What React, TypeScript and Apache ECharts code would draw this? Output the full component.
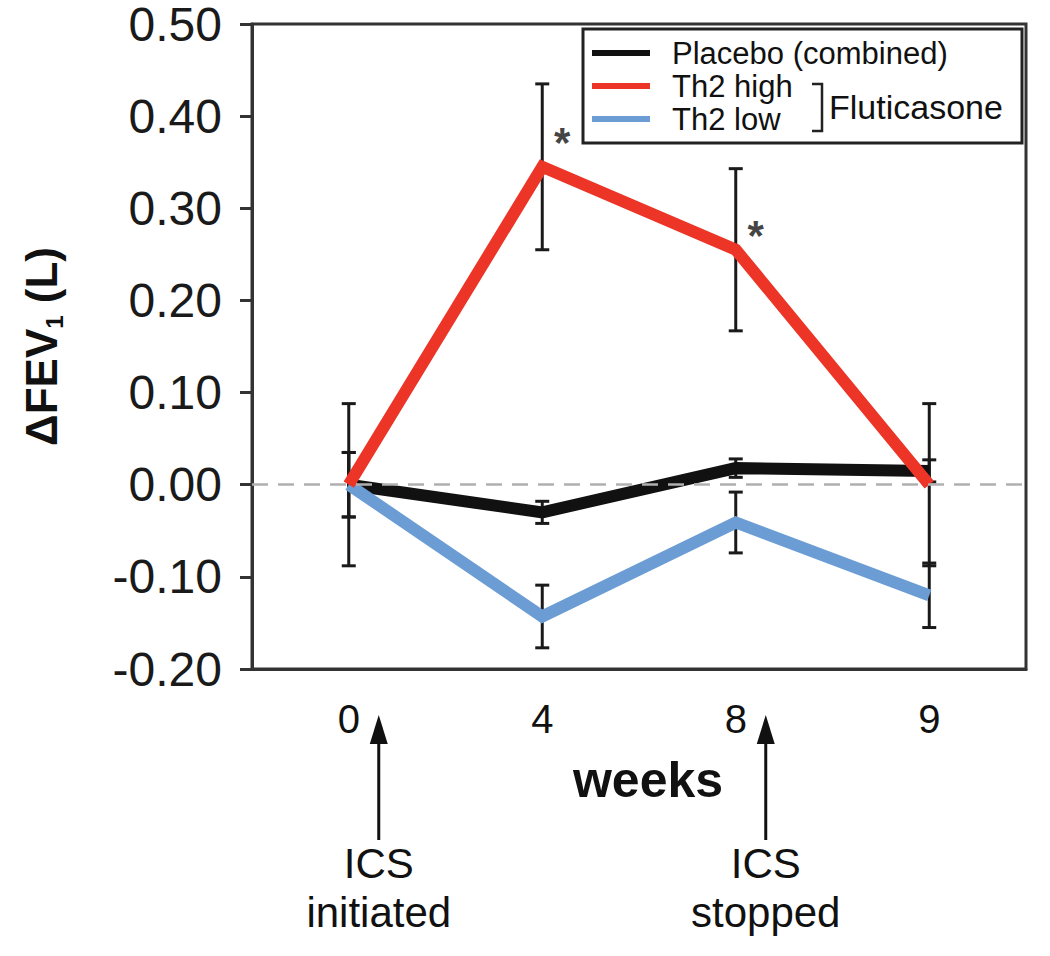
import React, { useEffect, useRef } from "react";
import * as echarts from "echarts";

const weeks = ["0", "4", "8", "9"];
const placebo = [0, -0.03, 0.018, 0.015];
const placeboErr = [0.035, 0.012, 0.01, 0.012];
const th2High = [0, 0.345, 0.255, 0];
const th2HighErr = [0.088, 0.09, 0.088, 0.088];
const th2Low = [0, -0.143, -0.041, -0.12];
const th2LowErr = [0.035, 0.034, 0.033, 0.035];
const yTicks = { min: -0.2, max: 0.5, interval: 0.1 };
// significance markers: [category index, value where the star sits]
const sigMarks = [
  [1, 0.378],
  [2, 0.277],
];
// ICS annotations: [week, line1, line2]
const icsNotes = [
  ["0", "ICS", "initiated"],
  ["8", "ICS", "stopped"],
];

const FONT = "'Liberation Sans', Arial, Helvetica, sans-serif";
const RED = "#ec3427";
const BLUE = "#6b9dd4";
const BLACK = "#111111";

export default function App() {
  const ref = useRef<HTMLDivElement>(null);
  useEffect(() => {
    if (!ref.current) return;
    const chart = echarts.init(ref.current, undefined, { renderer: "svg" });
    const errData: any[] = [];
    [placebo, th2High, th2Low].forEach((arr, s) => {
      const errs = [placeboErr, th2HighErr, th2LowErr][s];
      arr.forEach((v, i) => errData.push([i, v, errs[i]]));
    });
    const lineStyle = (c: string) => ({ color: c, width: 12, join: "miter" });
    chart.setOption({
      animation: false,
      textStyle: { fontFamily: FONT },
      grid: {
        left: 252,
        right: 24,
        top: 22,
        bottom: 287,
        show: true,
        borderColor: "#333",
        borderWidth: 3,
      },
      legend: {
        data: ["Placebo (combined)", "Th2 high", "Th2 low"],
        orient: "vertical",
        left: 592,
        top: 37,
        padding: 0,
        itemGap: 1,
        itemWidth: 58,
        itemHeight: 6,
        icon: "rect",
        selectedMode: false,
        textStyle: {
          fontSize: 31,
          lineHeight: 32,
          color: BLACK,
          fontFamily: FONT,
          padding: [0, 0, 0, 17],
        },
      },
      xAxis: {
        type: "category",
        data: weeks,
        boundaryGap: true,
        axisLine: { show: true, onZero: false, lineStyle: { color: "#333", width: 3 } },
        axisTick: { show: false },
        axisLabel: { fontSize: 40, color: BLACK, margin: 30 },
        name: "weeks",
        nameLocation: "middle",
        nameGap: 86,
        nameTextStyle: {
          fontSize: 50,
          fontWeight: "bold",
          color: BLACK,
          padding: [0, 0, 0, 18],
        },
        splitLine: { show: false },
      },
      yAxis: {
        type: "value",
        min: yTicks.min,
        max: yTicks.max,
        interval: yTicks.interval,
        axisLine: { show: true, lineStyle: { color: "#333", width: 3 } },
        axisTick: { show: true, inside: false, length: 12, lineStyle: { color: "#333", width: 3 } },
        axisLabel: {
          fontSize: 48,
          lineHeight: 40,
          color: "#1a1a1a",
          margin: 30,
          formatter: (v: number) => v.toFixed(2),
        },
        splitLine: { show: false },
        name: "ΔFEV{sub|1} (L)",
        nameLocation: "middle",
        nameRotate: 90,
        nameGap: 186,
        nameTextStyle: {
          fontSize: 44,
          fontWeight: "bold",
          color: BLACK,
          lineHeight: 50,
          rich: {
            sub: { fontSize: 24, fontWeight: "bold", color: BLACK, verticalAlign: "bottom", lineHeight: 50 },
          },
        },
      },
      series: [
        {
          name: "zero",
          type: "line",
          data: weeks.map(() => null),
          z: 1,
          silent: true,
          markLine: {
            silent: true,
            symbol: "none",
            label: { show: false },
            lineStyle: { color: "#b0b0b0", width: 2.5, type: [16, 10] },
            data: [{ yAxis: 0 }],
          },
        },
        {
          name: "errors",
          type: "custom",
          z: 2,
          silent: true,
          data: errData,
          encode: { x: 0, y: 1 },
          renderItem: (params: any, api: any) => {
            const i = api.value(0);
            const v = api.value(1);
            const e = api.value(2);
            const top = api.coord([i, v + e]);
            const bot = api.coord([i, v - e]);
            const half = 7;
            const st = { stroke: "#1a1a1a", lineWidth: 3 };
            return {
              type: "group",
              children: [
                { type: "line", shape: { x1: top[0], y1: top[1], x2: bot[0], y2: bot[1] }, style: st },
                { type: "line", shape: { x1: top[0] - half, y1: top[1], x2: top[0] + half, y2: top[1] }, style: st },
                { type: "line", shape: { x1: bot[0] - half, y1: bot[1], x2: bot[0] + half, y2: bot[1] }, style: st },
              ],
            };
          },
        },
        {
          name: "Placebo (combined)",
          type: "line",
          data: placebo,
          showSymbol: false,
          symbol: "none",
          color: BLACK,
          lineStyle: lineStyle(BLACK),
          z: 3,
        },
        {
          name: "Th2 low",
          type: "line",
          data: th2Low,
          showSymbol: false,
          symbol: "none",
          color: BLUE,
          lineStyle: lineStyle(BLUE),
          z: 3,
        },
        {
          name: "Th2 high",
          type: "line",
          data: th2High,
          showSymbol: false,
          symbol: "none",
          color: RED,
          lineStyle: lineStyle(RED),
          z: 4,
        },
        {
          name: "sig",
          type: "scatter",
          data: sigMarks,
          symbolSize: 1,
          itemStyle: { color: "rgba(0,0,0,0)" },
          silent: true,
          z: 5,
          label: {
            show: true,
            formatter: "*",
            position: "inside",
            offset: [20, 6],
            fontSize: 42,
            fontWeight: "bold",
            color: BLACK,
          },
        },
      ],
    });

    const graphics: any[] = [
      {
        type: "rect",
        shape: { x: 583, y: 29, width: 439, height: 114 },
        style: { fill: "rgba(0,0,0,0)", stroke: "#222", lineWidth: 3 },
        z: 10,
      },
      {
        type: "polyline",
        shape: { points: [[812, 84], [822, 84], [822, 131], [812, 131]] },
        style: { fill: "none", stroke: "#222", lineWidth: 2.5 },
        z: 10,
      },
      {
        type: "text",
        x: 829,
        y: 107,
        style: { text: "Fluticasone", fontSize: 34, fill: BLACK, fontFamily: FONT, align: "left", verticalAlign: "middle" },
        z: 10,
      },
    ];
    icsNotes.forEach(([wk, l1, l2]) => {
      const px = (chart.convertToPixel({ xAxisIndex: 0 }, wk) as number) + 30;
      graphics.push(
        {
          type: "line",
          shape: { x1: px, y1: 840, x2: px, y2: 738 },
          style: { stroke: "#111", lineWidth: 3 },
        },
        {
          type: "polygon",
          shape: { points: [[px, 715], [px - 9, 744], [px + 9, 744]] },
          style: { fill: "#111" },
        },
        {
          type: "text",
          x: px,
          y: 863,
          style: { text: l1, fontSize: 42, fill: BLACK, fontFamily: FONT, align: "center", verticalAlign: "middle" },
        },
        {
          type: "text",
          x: px,
          y: 912,
          style: { text: l2, fontSize: 42, fill: BLACK, fontFamily: FONT, align: "center", verticalAlign: "middle" },
        }
      );
    });
    chart.setOption({ graphic: graphics });
    return () => chart.dispose();
  }, []);
  return (
    <div
      ref={ref}
      style={{ position: "absolute", left: 0, top: 0, width: 1050, height: 956, background: "#fff" }}
    />
  );
}
